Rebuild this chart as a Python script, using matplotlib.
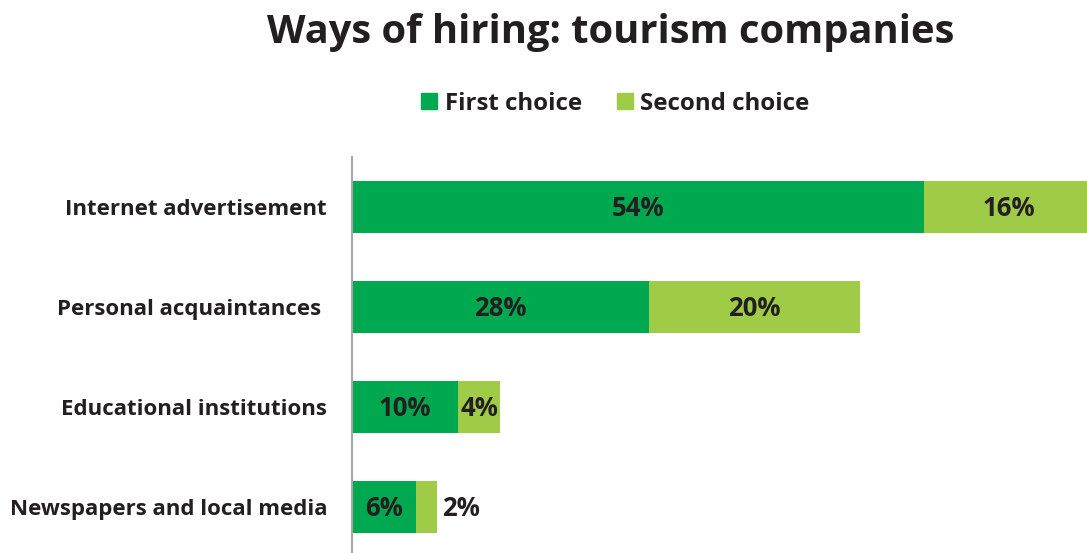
import matplotlib
matplotlib.use("Agg")
import matplotlib.pyplot as plt
from matplotlib.patches import Rectangle

plt.rcParams['font.family'] = ['Open Sans', 'DejaVu Sans']
plt.rcParams['font.weight'] = 'bold'

categories = ["Internet advertisement", "Personal acquaintances ",
              "Educational institutions", "Newspapers and local media"]
first_choice = [54, 28, 10, 6]
second_choice = [16, 20, 4, 2]
series_names = ["First choice", "Second choice"]

DARK = "#00A94F"
LIGHT = "#9FCB47"
TEXT = "#231F20"
CAP = 0.714  # cap height of Open Sans relative to font size

W, H = 1087, 553
fig = plt.figure(figsize=(W / 100, H / 100), dpi=100)
ax = fig.add_axes([352 / W, 1 - 557 / H, (W - 352) / W, 400 / H])

y = list(range(len(categories)))
ax.barh(y, first_choice, height=0.52, color=DARK, edgecolor="none")
ax.barh(y, second_choice, left=first_choice, height=0.52, color=LIGHT, edgecolor="none")


def label(x, yy, s, ha, size, dx=0):
    # baseline placed so that the digits sit centred on the bar
    ax.annotate(s, (x, yy), xytext=(dx, -CAP * size / 2), textcoords="offset points",
                ha=ha, va="baseline", fontsize=size, color=TEXT, fontweight="bold")


LBL = 18.5
for i, (a, b) in enumerate(zip(first_choice, second_choice)):
    label(a / 2, i, f"{a}%", "center", LBL)
    if b >= 3:
        label(a + b / 2, i, f"{b}%", "center", LBL)
    else:
        label(a + b, i, f"{b}%", "left", LBL, dx=4)

ax.set_xlim(0, (W - 352) / 10.593)
ax.set_ylim(len(categories) - 0.5, -0.5)
ax.set_yticks(y)
ax.set_yticklabels(categories, fontsize=16, color=TEXT, fontweight="bold")
ax.tick_params(axis="y", length=0, pad=18)
ax.set_xticks([])
for s in ["top", "right", "bottom"]:
    ax.spines[s].set_visible(False)
ax.spines["left"].set_color("#A6A6A6")
ax.spines["left"].set_linewidth(1.5)

TS = 28.75
fig.text(611 / W, 1 - 43 / H, "Ways of hiring: tourism companies", ha="center",
         va="baseline", fontsize=TS, color=TEXT, fontweight="bold")

# legend
LS = 17.3
for sx, tx, name, col in [(421, 445, series_names[0], DARK),
                          (617, 640, series_names[1], LIGHT)]:
    fig.patches.append(Rectangle((sx / W, 1 - 109 / H), 16 / W, 16 / H,
                                 transform=fig.transFigure, color=col))
    fig.text(tx / W, 1 - (101 + CAP * LS * 100 / 72 / 2) / H, name, ha="left",
             va="baseline", fontsize=LS, color=TEXT, fontweight="bold")

fig.savefig("out.png", dpi=100)
